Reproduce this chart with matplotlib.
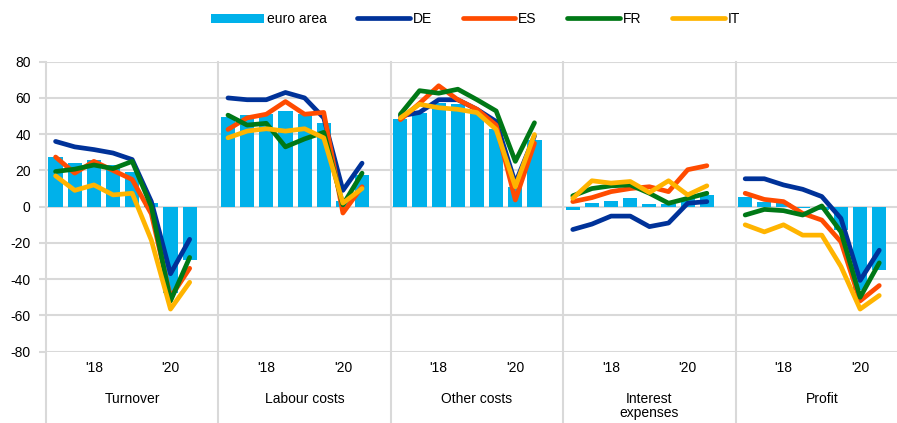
import matplotlib
matplotlib.use("Agg")
import matplotlib.pyplot as plt
import numpy as np

plt.rcParams['font.family'] = ['Liberation Sans', 'DejaVu Sans']
matplotlib.rcParams['axes.unicode_minus'] = False

# 데이터: 패널별 반기 (2017H1 ~ 2020H2)
panels = ['Turnover', 'Labour costs', 'Other costs', 'Interest\nexpenses', 'Profit']

euro_area = [
    [27.4, 24, 26, 23, 19.4, 2, -47.6, -29.4],
    [49.4, 50.5, 51.3, 52.8, 51, 46.3, 3, 17.6],
    [48.5, 51.9, 57.4, 56.5, 52.8, 42.6, 11, 37],
    [-1.8, 2.2, 3.3, 4.6, 1.3, 1.5, 4, 6.4],
    [5.6, 2.8, 2.2, -1, -2, -13, -46, -35],
]
DE = [
    [36, 33, 31.5, 29.6, 26, 2.8, -37, -18],
    [60, 59, 59, 63, 60, 49, 9, 24],
    [50, 52, 59, 59, 53.7, 47, 13, 39],
    [-12.6, -9.6, -5.2, -5.2, -11, -9, 1.9, 2.8],
    [15.4, 15.4, 12, 9.6, 5.6, -6.5, -40.7, -24],
]
ES = [
    [27.4, 18.5, 25, 20, 15, -4, -50, -34],
    [42.6, 49, 51, 58, 51, 52, -3.5, 11],
    [48, 57, 66.7, 59, 53.7, 45, 3.7, 35],
    [2.8, 5, 8.3, 10, 11, 8.3, 20.4, 22.6],
    [7.4, 4, 2.8, -3.7, -7.4, -19.4, -52, -43.5],
]
FR = [
    [19.4, 20.7, 23, 21, 25, 0, -52, -28],
    [50.5, 45, 46, 33, 37.4, 41, 1, 18.5],
    [51, 64, 62.6, 64.8, 59, 52.8, 25, 46.3],
    [6, 10, 11.5, 12, 7.4, 1.9, 4.6, 7.4],
    [-4.6, -1.5, -2.2, -4.6, 0.4, -13.9, -50, -31],
]
IT = [
    [17, 9, 12, 6.5, 7.4, -18.5, -56.5, -41.7],
    [38, 41.7, 43, 41.7, 43, 38, 2, 10],
    [49, 56.5, 54.6, 53.7, 51.9, 42.6, 11, 39.8],
    [4.6, 14.3, 13, 13.9, 7.8, 14.3, 6.5, 11.5],
    [-10, -13.9, -10, -15.7, -15.7, -33, -56.5, -49],
]
year_ticks = {2: "'18", 6: "'20"}

colors = {'euro area': '#00B1EA', 'DE': '#003299', 'ES': '#FF4B00',
          'FR': '#007816', 'IT': '#FFB400'}
grid_c = '#D9D9D9'
slots = 9  # 8개 반기 + 빈칸 1개

fig = plt.figure(figsize=(8.97, 4.23), dpi=100)
ax = fig.add_axes([46 / 897, 0.1686, 862 / 897, 0.6856])

for p in range(len(panels)):
    x = np.arange(8) + p * slots
    ax.bar(x, euro_area[p], width=0.74, color=colors['euro area'], zorder=2,
           label='euro area' if p == 0 else None)
    for name, series in [('DE', DE), ('ES', ES), ('FR', FR), ('IT', IT)]:
        ax.plot(x, series[p], color=colors[name], lw=3.4, zorder=3,
                solid_capstyle='round', label=name if p == 0 else None)

ax.set_xlim(-0.5, len(panels) * slots - 0.5)
ax.set_ylim(-80, 80)
ax.set_yticks(range(-80, 81, 20))
for v in range(-80, 81, 20):
    ax.axhline(v, color=grid_c, lw=1.5, zorder=1)

# 패널 구분선 (아래 라벨 영역까지)
trans = ax.get_xaxis_transform()
for p in range(len(panels)):
    ax.plot([p * slots - 0.5] * 2, [-0.26, 1], color=grid_c, lw=1.5,
            transform=trans, clip_on=False, zorder=1)

for s in ax.spines.values():
    s.set_visible(False)

xt, xl = [], []
for p in range(len(panels)):
    for i, lab in year_ticks.items():
        xt.append(p * slots + i)
        xl.append(lab)
    ax.text(p * slots + 4, -0.14, panels[p], transform=trans, ha='center',
            va='top', fontsize=10, linespacing=1.0)
ax.set_xticks(xt)
ax.set_xticklabels(xl, fontsize=10)
ax.tick_params(axis='x', length=0, pad=7)
ax.tick_params(axis='y', length=5, color=grid_c, width=1.5, labelsize=10, pad=6)

handles, labels = ax.get_legend_handles_labels()
order = [labels.index(n) for n in ['euro area', 'DE', 'ES', 'FR', 'IT']]
fig.legend([handles[i] for i in order], [labels[i] for i in order],
           loc='center', bbox_to_anchor=(0.53, 0.955), ncol=5, frameon=False,
           fontsize=10, handlelength=3.8, handleheight=0.6, columnspacing=2.2,
           handletextpad=0.2)

fig.savefig('out.png', dpi=100)
